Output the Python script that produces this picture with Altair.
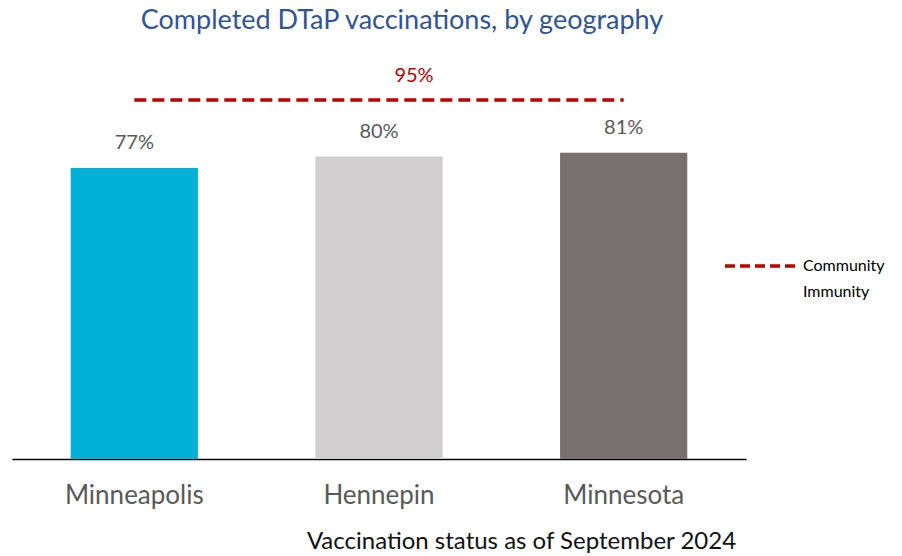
import altair as alt
import pandas as pd

geos = ["Minneapolis", "Hennepin", "Minnesota"]
rates = [77, 80, 81]
rate_labels = ["77%", "80%", "81%"]
bar_colors = ["#00B0D6", "#D0CECE", "#767171"]

target_value = [95]
target_label = ["95%"]
target_name = ["Community Immunity"]

FONT = "Lato"

bars_df = pd.DataFrame({"geo": geos, "rate": rates, "lbl": rate_labels})
rule_df = pd.DataFrame({
    "start": [geos[0]], "end": [geos[-1]], "mid": [geos[1]],
    "value": target_value, "lbl": target_label, "name": target_name,
})

xscale = alt.Scale(domain=geos, paddingInner=0.48, paddingOuter=0.24)
yscale = alt.Scale(domain=[0, 100])

bars = alt.Chart(bars_df).mark_bar().encode(
    x=alt.X("geo:N", scale=xscale, sort=geos,
            axis=alt.Axis(title="Vaccination status as of September 2024",
                          labelAngle=0, labelFontSize=26, labelColor="#595959",
                          labelFont=FONT, labelPadding=36, labelBaseline="middle",
                          ticks=False, tickSize=0, domainColor="#000000",
                          domainWidth=1.5, titleFont=FONT, titleFontSize=24,
                          titleFontWeight="normal", titleColor="#111111",
                          titleX=509, titleY=82, titleBaseline="middle",
                          titleAlign="center")),
    y=alt.Y("rate:Q", scale=yscale, axis=None),
    color=alt.Color("geo:N", scale=alt.Scale(domain=geos, range=bar_colors), legend=None),
)

bar_text = alt.Chart(bars_df).mark_text(
    baseline="middle", dy=-25, fontSize=20, font=FONT, color="#595959"
).encode(
    x=alt.X("geo:N", scale=xscale, sort=geos),
    y=alt.Y("rate:Q", scale=yscale),
    text="lbl:N",
)

rule = alt.Chart(rule_df).mark_rule(strokeWidth=3.5, strokeDash=[12, 6]).encode(
    x=alt.X("start:N", scale=xscale, sort=geos),
    x2="end:N",
    y=alt.Y("value:Q", scale=yscale),
    stroke=alt.Stroke("name:N", scale=alt.Scale(domain=target_name, range=["#C00000"]),
                      legend=alt.Legend(title=None, orient="none", legendX=711, legendY=148,
                                        symbolType="stroke", symbolSize=4900,
                                        symbolStrokeWidth=3.5, symbolDash=[10, 5],
                                        labelFont=FONT, labelFontSize=16,
                                        labelColor="#000000", labelOffset=6,
                                        labelLimit=300, labelBaseline="middle",
                                        labelExpr="split(datum.label, ' ')")),
)

rule_text = alt.Chart(rule_df).mark_text(
    baseline="middle", dy=-24, dx=35, fontSize=20, font=FONT, color="#C00000"
).encode(
    x=alt.X("mid:N", scale=xscale, sort=geos),
    y=alt.Y("value:Q", scale=yscale),
    text="lbl:N",
)

chart = alt.layer(bars, bar_text, rule, rule_text).properties(
    width=734, height=378,
    title=alt.TitleParams("Completed DTaP vaccinations, by geography", anchor="middle",
                          dx=23, offset=31, font=FONT, fontSize=27,
                          fontWeight="normal", color="#2F5597"),
    autosize=alt.AutoSizeParams(type="none"),
    padding={"left": 4, "top": 73, "right": 148, "bottom": 95},
).configure(
    style={"guide-label": {"lineHeight": 26}},
    view={"stroke": None},
)

chart.save("out.html", embed_options={"renderer": "svg", "actions": False})
